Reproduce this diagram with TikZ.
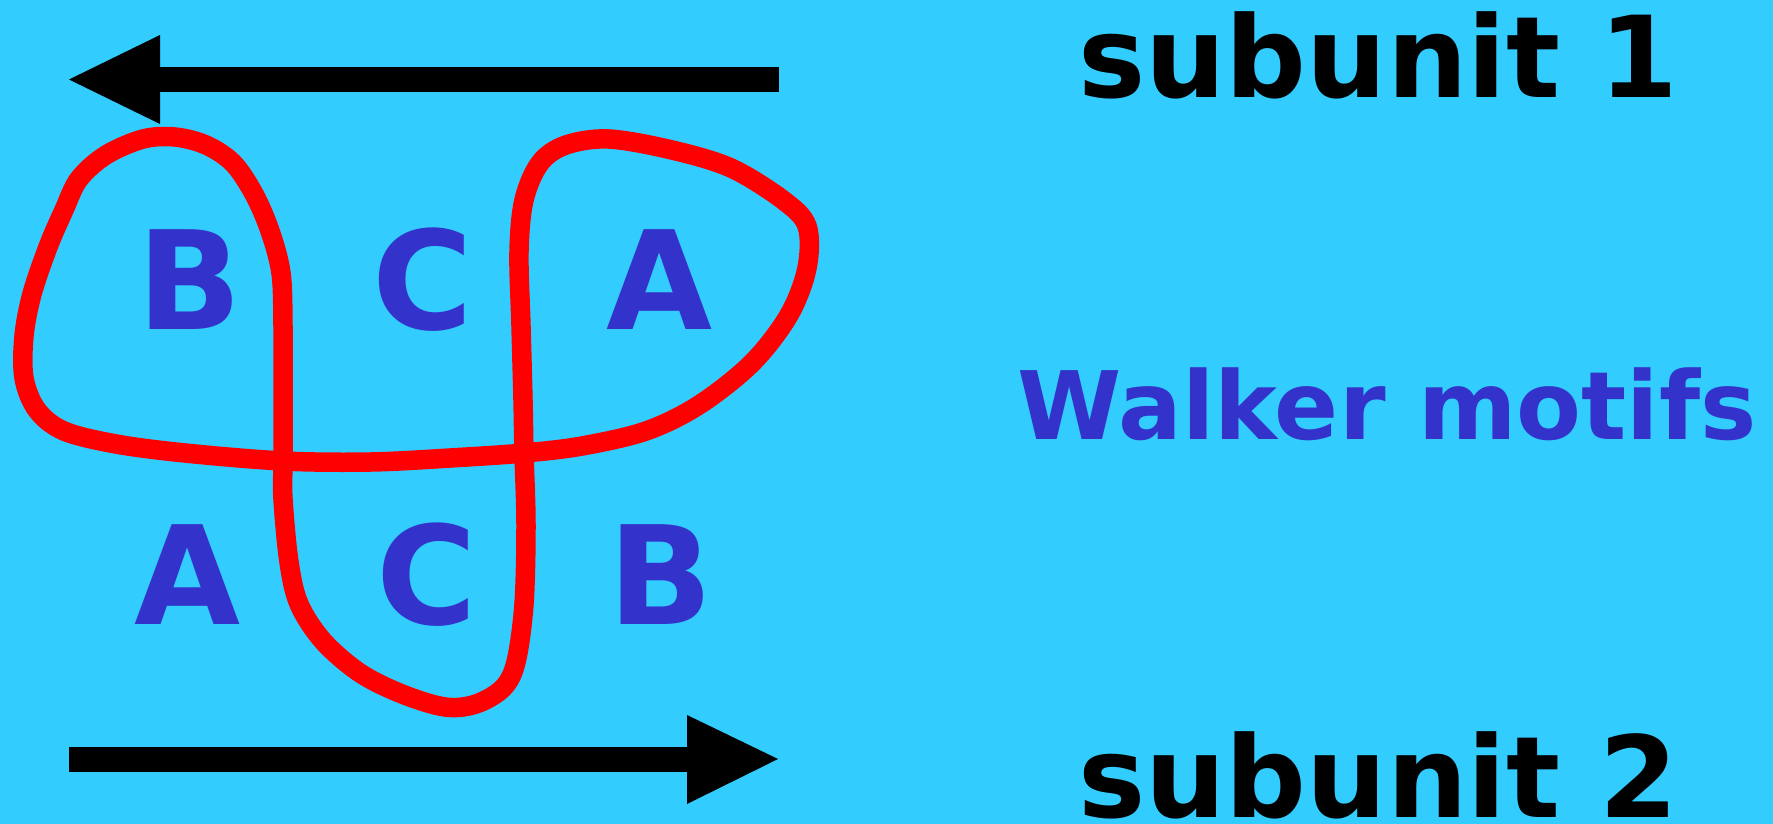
\documentclass[tikz,border=0pt]{standalone}
\usepackage{fontspec}
\setmainfont{DejaVu Sans}
\definecolor{bgblue}{RGB}{51,204,255}
\definecolor{letblue}{RGB}{51,51,204}
\definecolor{loopred}{RGB}{255,0,0}
\tikzset{
  bigletter/.style={inner sep=0pt, anchor=base, text=letblue, font=\bfseries\fontsize{137}{140}\selectfont},
  subunitlabel/.style={inner sep=0pt, anchor=base west, text=black, font=\bfseries\fontsize{113}{118}\selectfont},
  motiflabel/.style={inner sep=0pt, anchor=base east, text=letblue, font=\bfseries\fontsize{94.5}{100}\selectfont},
  shaft/.style={line width=25pt, draw=black},
  loopline/.style={draw=loopred, line width=19.5pt, line join=round},
}
\begin{document}
\begin{tikzpicture}[x=1pt,y=-1pt]
\fill[bgblue] (0,0) rectangle (1773,824);
\useasboundingbox (0,0) rectangle (1773,824);

% arrows
\coordinate (t1s) at (779,79.5);
\coordinate (t1e) at (158,79.5);
\coordinate (t1tip) at (69,79.5);
\coordinate (t1h1) at (160,35);
\coordinate (t1h2) at (160,124);
\draw[shaft] (t1s) -- (t1e);
\fill[black] (t1tip) -- (t1h1) -- (t1h2) -- cycle;

\coordinate (t2s) at (69,759);
\coordinate (t2e) at (690,759);
\coordinate (t2tip) at (778,759);
\coordinate (t2h1) at (687,715);
\coordinate (t2h2) at (687,804);
\draw[shaft] (t2s) -- (t2e);
\fill[black] (t2tip) -- (t2h1) -- (t2h2) -- cycle;

% red loop
\draw[loopline] plot[smooth cycle, tension=0.55] coordinates {
(283,461) (283,400) (283,326) (281,273) (270,231) (254,194) (233,163) (206,145) (175,137)
(143,139) (106,155) (79,179) (64,210) (48,247) (32,294) (24,336) (24,378) (37,410)
(64,431) (116,444) (185,453) (283,461) (371,462) (450,458) (524,453) (582,446)
(646,431) (699,405) (752,363) (789,315) (807,268) (807,226) (783,200) (731,168)
(672,150) (609,139) (566,145) (540,163) (524,200) (519,252) (521,326) (523,400) (524,453)
(526,525) (524,604) (516,662) (503,688) (476,704) (445,707) (402,694) (360,673)
(323,641) (299,604) (289,562) (283,499)
};

% letters
\node[bigletter] (b1) at (190,329) {B};
\node[bigletter] (c1) at (423,329) {C};
\node[bigletter] (a1) at (660,329) {A};
\node[bigletter] (a2) at (188,624) {A};
\node[bigletter] (c2) at (427,624) {C};
\node[bigletter] (b2) at (661,624) {B};

% labels
\node[subunitlabel] (s1) at (1078,98) {subunit 1};
\node[subunitlabel] (s2) at (1078,817) {subunit 2};
\node[motiflabel] (wm) at (1757,439) {Walker motifs};
\end{tikzpicture}
\end{document}
